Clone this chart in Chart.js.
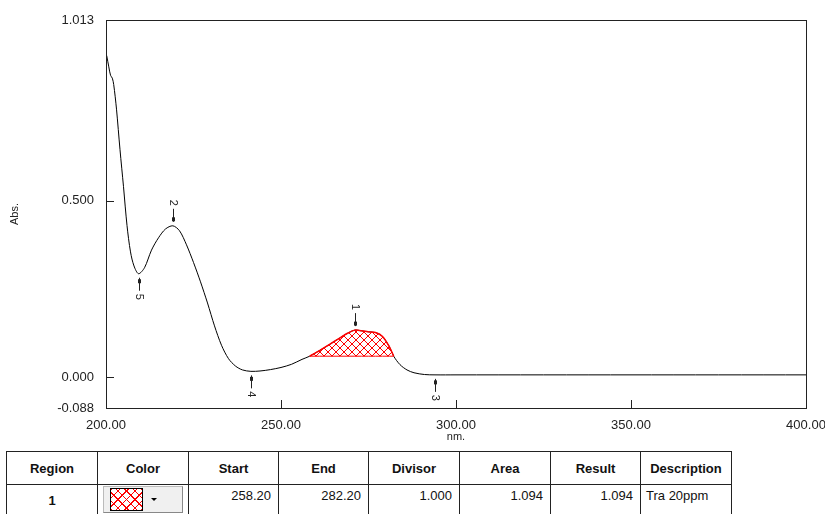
<!DOCTYPE html>
<html>
<head>
<meta charset="utf-8">
<script src="https://cdn.jsdelivr.net/npm/chart.js@4.4.1/dist/chart.umd.min.js"></script>
<style>
  body { margin: 0; background: #fff; font-family: "Liberation Sans", Arial, sans-serif; }
  #wrap { position: relative; width: 825px; height: 514px; overflow: hidden; }
  #chartBox { position: absolute; left: 0; top: 0; width: 825px; height: 445px; }
  table { position: absolute; left: 6px; top: 451px; border-collapse: collapse; font-size: 13px; color: #111; table-layout: fixed; }
  th, td { border: 1px solid #222; padding: 0; }
  th { height: 32px; font-weight: bold; text-align: center; }
  td { height: 36px; vertical-align: top; padding-top: 3px; text-align: right; padding-right: 7px; }
  td.c { text-align: center; font-weight: bold; padding-right: 0; padding-top: 8px; }
  td.d { text-align: left; padding-left: 5px; padding-right: 0; }
  td.col { padding: 1px 0 0 5px; text-align: left; }
  .btn { width: 80px; height: 27px; background: #f0f0f0; border: 1px solid #bbb; border-right-color: #888; border-bottom-color: #888; box-sizing: border-box; position: relative; }
  .sw { position: absolute; left: 6px; top: 1px; width: 33px; height: 23px; border: 1px solid #000; box-sizing: border-box;
        background: repeating-linear-gradient(45deg, #f00 0 1px, transparent 1px 6px), repeating-linear-gradient(-45deg, #f00 0 1px, #fff 1px 6px); }
  .arr { position: absolute; left: 47px; top: 11px; width: 0; height: 0; border-left: 3px solid transparent; border-right: 3px solid transparent; border-top: 3px solid #000; }
</style>
</head>
<body>
<div id="wrap">
  <div id="chartBox"><canvas id="specChart"></canvas></div>
  <table>
    <tr>
      <th style="width:90px">Region</th><th style="width:90px">Color</th><th style="width:89px">Start</th><th style="width:89px">End</th>
      <th style="width:90px">Divisor</th><th style="width:90px">Area</th><th style="width:89px">Result</th><th style="width:90px">Description</th>
    </tr>
    <tr>
      <td class="c">1</td>
      <td class="col"><div class="btn"><div class="sw"></div><div class="arr"></div></div></td>
      <td>258.20</td><td>282.20</td><td>1.000</td><td>1.094</td><td>1.094</td><td class="d">Tra 20ppm</td>
    </tr>
  </table>
</div>
<script>
// spectrum
const wavelengths = [200.2, 200.8, 201.3, 201.8, 202.2, 203, 204, 205, 206, 207, 208, 209.3, 211, 213, 215, 217, 219.1, 221, 223, 225, 227, 229, 231, 233, 235, 237, 239, 241.4, 244, 247, 250, 253, 256, 258.2, 261, 264, 267, 269, 271.1, 273, 275, 277, 279, 281, 282.2, 284, 286, 288, 291, 294, 300, 350, 400];
const absorbance = [0.912, 0.88, 0.856, 0.848, 0.83, 0.76, 0.645, 0.54, 0.43, 0.355, 0.315, 0.293, 0.31, 0.36, 0.395, 0.42, 0.429, 0.415, 0.375, 0.325, 0.27, 0.21, 0.145, 0.09, 0.052, 0.031, 0.02, 0.016, 0.017, 0.021, 0.027, 0.036, 0.05, 0.059, 0.075, 0.093, 0.112, 0.124, 0.133, 0.131, 0.128, 0.126, 0.115, 0.085, 0.059, 0.035, 0.02, 0.012, 0.007, 0.006, 0.006, 0.006, 0.006];

const regionStart = 258.2;
const regionEnd = 282.2;

const peakLabels = ['1', '2', '3', '4', '5'];
const peakX = [271.1, 219.1, 294.0, 241.4, 209.3];
const peakY = [0.133, 0.429, 0.006, 0.016, 0.293];
const peakUp = [true, true, false, false, false];

const yTicks = [1.013, 0.5, 0.0, -0.088];
const xTicks = [200, 250, 300, 350, 400];

const curve = wavelengths.map((w, i) => ({ x: w, y: absorbance[i] }));
const region = curve.filter(p => p.x >= regionStart && p.x <= regionEnd);
const y0 = region[0].y, y1 = region[region.length - 1].y;
const baseline = region.map(p => ({ x: p.x, y: y0 + (y1 - y0) * (p.x - regionStart) / (regionEnd - regionStart) }));

function hatch() {
  const c = document.createElement('canvas');
  c.width = 8; c.height = 8;
  const g = c.getContext('2d');
  g.strokeStyle = '#ff0000';
  g.lineWidth = 1;
  g.beginPath();
  g.moveTo(0, 0); g.lineTo(8, 8);
  g.moveTo(8, 0); g.lineTo(0, 8);
  g.stroke();
  return g.createPattern(c, 'repeat');
}

const framePlugin = {
  id: 'frame',
  afterDatasetsDraw(chart) {
    const { ctx, chartArea: a, scales } = chart;
    ctx.save();
    ctx.strokeStyle = '#222';
    ctx.lineWidth = 1;
    ctx.strokeRect(a.left + 0.5, a.top + 0.5, a.right - a.left, a.bottom - a.top);
    ctx.beginPath();
    yTicks.slice(0, 3).forEach(v => {
      const y = Math.round(scales.y.getPixelForValue(v)) + 0.5;
      ctx.moveTo(a.left, y); ctx.lineTo(a.left + 8, y);
    });
    xTicks.slice(1, 4).forEach(v => {
      const x = Math.round(scales.x.getPixelForValue(v)) + 0.5;
      ctx.moveTo(x, a.bottom); ctx.lineTo(x, a.bottom - 8);
    });
    ctx.stroke();

    // peak / valley markers
    ctx.font = '11px "Liberation Sans", Arial';
    ctx.fillStyle = '#222';
    ctx.textAlign = 'center';
    ctx.textBaseline = 'middle';
    peakLabels.forEach((lab, i) => {
      const x = Math.round(scales.x.getPixelForValue(peakX[i])) + 0.5;
      const y = scales.y.getPixelForValue(peakY[i]);
      const s = peakUp[i] ? -1 : 1;
      ctx.beginPath();
      ctx.moveTo(x, y + s * 4);
      ctx.lineTo(x, y + s * 17);
      ctx.stroke();
      ctx.fillRect(x - 1.5, y + s * 7 - 1.5, 3, 4);
      ctx.save();
      ctx.translate(x, y + s * 23);
      ctx.rotate(Math.PI / 2);
      ctx.fillText(lab, 0, 0);
      ctx.restore();
    });
    ctx.restore();
  }
};

const specChart = new Chart(document.getElementById('specChart'), {
  type: 'line',
  data: {
    datasets: [
      {
        label: 'baseline',
        data: baseline,
        borderColor: '#ff0000',
        borderWidth: 1,
        pointRadius: 0,
        fill: false
      },
      {
        label: 'region',
        data: region,
        borderColor: '#ff0000',
        borderWidth: 1.5,
        pointRadius: 0,
        tension: 0.3,
        backgroundColor: hatch(),
        fill: 0
      },
      {
        label: 'Abs',
        data: curve,
        borderColor: '#000',
        borderWidth: 1,
        pointRadius: 0,
        tension: 0.3,
        fill: false
      }
    ]
  },
  options: {
    responsive: true,
    maintainAspectRatio: false,
    animation: false,
    layout: { padding: { top: 20, right: 19, left: 0, bottom: 0 } },
    plugins: { legend: { display: false }, tooltip: { enabled: false } },
    scales: {
      x: {
        type: 'linear',
        min: 200, max: 400,
        afterBuildTicks: s => { s.ticks = xTicks.map(v => ({ value: v })); },
        afterFit: s => { s.height = 37; s.paddingLeft = 0; s.paddingRight = 0; },
        grid: { display: false },
        border: { display: false },
        ticks: {
          padding: 2, maxRotation: 0, autoSkip: false,
          color: '#222', font: { size: 13, family: '"Liberation Sans", Arial' },
          callback: v => v.toFixed(2)
        },
        title: { display: true, text: 'nm.', color: '#222', padding: { top: 0, bottom: 1 }, font: { size: 11, family: '"Liberation Sans", Arial' } }
      },
      y: {
        min: -0.088, max: 1.013,
        afterBuildTicks: s => { s.ticks = yTicks.map(v => ({ value: v })); },
        afterFit: s => { s.width = 106; },
        grid: { display: false },
        border: { display: false },
        ticks: {
          padding: 4, autoSkip: false,
          color: '#222', font: { size: 13, family: '"Liberation Sans", Arial' },
          callback: v => v.toFixed(3)
        },
        title: { display: true, text: 'Abs.', color: '#222', padding: { top: 8, bottom: 0 }, font: { size: 11, family: '"Liberation Sans", Arial' } }
      }
    }
  },
  plugins: [framePlugin]
});
</script>
</body>
</html>
